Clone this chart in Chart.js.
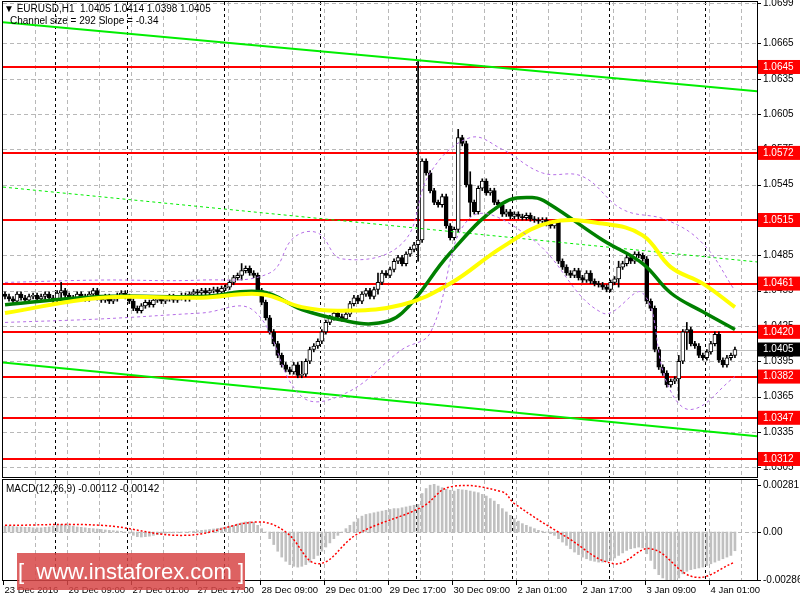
<!DOCTYPE html>
<html lang="en">
<head>
<meta charset="UTF-8" />
<title>EURUSD H1</title>
<script src="https://cdn.jsdelivr.net/npm/chart.js"></script>
<style>
  body { margin: 0; background: #fff; }
  #wrap { position: relative; width: 800px; height: 600px; background: #fff; font-family: "DejaVu Sans", sans-serif; }
  canvas { position: absolute; left: 0; }
  #mark { position: absolute; left: 17px; top: 553px; width: 228px; height: 37px; background: rgba(215,70,70,0.85);
          color: #fff; font: 22px "Liberation Sans", Arial, sans-serif; line-height: 37px; text-align: center; }
</style>
<script>
  // prices in pips above 1.0000 (450 = 1.0450), one value per H1 candle
  var closes = [
    450,448,446,452,449,447,450,451,448,450,
    452,449,447,453,455,451,447,449,452,450,
    448,452,455,449,447,450,446,448,451,453,
    450,446,440,438,442,445,443,447,449,446,
    448,450,447,449,451,448,452,454,453,455,
    453,455,456,454,457,458,462,466,468,472,
    474,470,468,455,445,432,420,410,400,392,
    388,386,392,383,384,395,405,408,412,420,
    428,432,436,433,431,435,444,449,446,452,
    455,450,456,462,470,468,473,480,483,478,
    486,490,494,498,565,555,540,530,528,535,
    510,500,507,585,580,545,530,522,542,548,
    538,540,530,528,520,522,518,520,518,517,
    519,516,515,514,515,512,510,513,480,475,
    470,468,472,466,464,470,463,461,460,458,
    456,462,465,475,478,483,480,486,485,482,
    446,440,405,390,385,375,378,380,395,420,
    422,410,408,400,398,403,410,418,396,392,
    398,400,405
  ];
  var firstOpen = 452;
  // extreme wicks that stick out of the normal range: index -> [high, low]
  var spikes = { 103: [650, 480], 113: [592, 505], 74: [395, 381], 168: [400, 362], 93: [470, 452],
                 14: [462, 449], 59: [478, 464], 116: [556, 518], 153: [480, 458], 170: [428, 405] };

  // moving averages and envelope, read at some candles
  var maFast = [[0,443],[24,450],[49,450],[64,454],[74,439],[84,430],[92,427],[99,436],[111,487],[124,529],[132,534],[136,528],[149,498],[159,478],[166,453],[174,437],[182,422]];
  var maSlow = [[0,436],[24,449],[49,449],[64,452],[74,441],[84,438],[99,443],[111,461],[124,492],[136,513],[149,512],[159,502],[166,475],[174,461],[182,441]];
  var bandUp = [[0,462],[24,464],[49,464],[66,470],[72,500],[78,504],[84,482],[99,495],[106,555],[116,585],[124,575],[134,555],[144,552],[154,524],[165,515],[174,495],[182,455]];
  var bandDn = [[0,428],[24,431],[49,436],[62,438],[74,365],[85,368],[99,405],[106,419],[116,517],[131,500],[149,436],[159,453],[165,377],[171,354],[182,382]];

  // channel lines: [start, end] at index -0.5 and 187.5
  var chanTop = [683, 624.4];
  var chanMid = [543, 479.4];
  var chanBot = [394, 331.4];

  var levels = [645, 572, 515, 461, 420, 382, 347, 312];
  var lastPrice = 405;
  var priceTicks = [699, 665, 635, 605, 575, 545, 515, 485, 455, 425, 395, 365, 335, 305];

  // MACD in units of 0.00001
  var macdHist = [
    35,35,33,30,30,28,28,25,25,25,
    28,30,35,40,45,42,38,35,30,28,
    25,22,20,18,15,12,10,8,6,4,
    0,-8,-20,-28,-30,-28,-25,-20,-16,-12,
    -8,-5,-5,-3,-2,0,2,5,8,10,
    12,15,18,22,25,30,35,40,48,55,
    60,62,58,40,20,0,-40,-75,-115,-150,
    -175,-195,-205,-210,-205,-195,-180,-160,-140,-115,
    -90,-65,-40,-20,0,20,40,60,80,95,
    105,110,115,120,125,130,135,140,140,145,
    150,155,160,165,230,260,280,285,275,265,
    255,250,245,255,252,250,245,240,235,225,
    215,200,185,165,140,120,100,80,65,50,
    40,30,20,10,5,0,-10,-20,-40,-60,
    -80,-100,-120,-135,-150,-160,-170,-175,-180,-180,
    -178,-170,-155,-140,-125,-110,-100,-95,-90,-95,
    -130,-170,-220,-255,-275,-290,-300,-290,-275,-250,
    -235,-225,-220,-215,-210,-200,-190,-180,-170,-160,
    -150,-140,-112
  ];
  var macdSignal = [[0,40],[24,40],[45,-20],[63,60],[70,0],[78,-190],[88,-10],[104,150],[111,270],[124,240],[127,170],[140,-30],[152,-190],[161,-100],[172,-270],[182,-180]];

  var dateLabels = ["23 Dec 2016","26 Dec 09:00","27 Dec 01:00","27 Dec 17:00","28 Dec 09:00","29 Dec 01:00",
                    "29 Dec 17:00","30 Dec 09:00","2 Jan 01:00","2 Jan 17:00","3 Jan 09:00","4 Jan 01:00"];
  var daySeparators = [12.5, 30.5, 54.5, 78.5, 102.5, 126.5, 150.5, 174.5];
</script>
</head>
<body>
<div id="wrap">
  <canvas id="main" width="800" height="478" style="top:0"></canvas>
  <canvas id="macd" width="800" height="122" style="top:478px"></canvas>
  <div id="mark">[&nbsp; www.instaforex.com ]</div>
</div>
<script>
  Chart.defaults.animation = false;
  Chart.defaults.font.family = "DejaVu Sans";

  var X_MIN = -0.5, X_MAX = 187.5;
  var AXIS_FONT = "10px 'Liberation Sans'";
  function pts(arr) { return arr.map(function (p) { return { x: p[0], y: p[1] }; }); }

  var bodies = [], wicks = [], bodyColors = [];
  closes.forEach(function (c, i) {
    var o = i === 0 ? firstOpen : closes[i - 1];
    var hi = Math.max(o, c) + 2, lo = Math.min(o, c) - 2;
    if (spikes[i]) { hi = spikes[i][0]; lo = spikes[i][1]; }
    if (Math.abs(c - o) < 1) c = o + 1;
    bodies.push({ x: i, y: [o, c] });
    wicks.push({ x: i, y: [lo, hi] });
    bodyColors.push(c >= o ? "#ffffff" : "#000000");
  });

  function vGrid(ctx, area, sx) {
    ctx.save();
    ctx.lineWidth = 1;
    ctx.strokeStyle = "#b8b8b8";
    ctx.setLineDash([4, 3]);
    for (var g = 7.5; g < X_MAX; g += 8) {
      var x = Math.round(sx.getPixelForValue(g)) + 0.5;
      ctx.beginPath(); ctx.moveTo(x, area.top); ctx.lineTo(x, area.bottom); ctx.stroke();
    }
    ctx.strokeStyle = "#000";
    ctx.setLineDash([3, 3]);
    daySeparators.forEach(function (d) {
      var x = Math.round(sx.getPixelForValue(d)) + 0.5;
      ctx.beginPath(); ctx.moveTo(x, area.top); ctx.lineTo(x, area.bottom); ctx.stroke();
    });
    ctx.restore();
  }

  function frame(ctx, area) {
    ctx.save();
    ctx.strokeStyle = "#000";
    ctx.lineWidth = 1;
    ctx.strokeRect(area.left - 0.5, area.top - 0.5, area.right - area.left + 1, area.bottom - area.top + 1);
    ctx.restore();
  }

  var mainPlugin = {
    id: "mt4main",
    beforeDatasetsDraw: function (chart) {
      var ctx = chart.ctx, a = chart.chartArea, sy = chart.scales.y;
      vGrid(ctx, a, chart.scales.x);
      ctx.save();
      ctx.strokeStyle = "#b8b8b8";
      ctx.setLineDash([4, 3]);
      priceTicks.forEach(function (t) {
        var y = Math.round(sy.getPixelForValue(t)) + 0.5;
        ctx.beginPath(); ctx.moveTo(a.left, y); ctx.lineTo(a.right, y); ctx.stroke();
      });
      ctx.setLineDash([]);
      ctx.strokeStyle = "#c0c0c0";
      var yl = Math.round(sy.getPixelForValue(lastPrice)) + 0.5;
      ctx.beginPath(); ctx.moveTo(a.left, yl); ctx.lineTo(a.right, yl); ctx.stroke();
      ctx.strokeStyle = "#ff0000";
      ctx.lineWidth = 2;
      levels.forEach(function (l) {
        var y = Math.round(sy.getPixelForValue(l));
        ctx.beginPath(); ctx.moveTo(a.left, y); ctx.lineTo(a.right, y); ctx.stroke();
      });
      ctx.restore();
    },
    afterDraw: function (chart) {
      var ctx = chart.ctx, a = chart.chartArea, sy = chart.scales.y;
      frame(ctx, a);
      ctx.save();
      ctx.font = AXIS_FONT;
      ctx.textBaseline = "middle";
      ctx.fillStyle = "#000";
      priceTicks.forEach(function (t) {
        var y = sy.getPixelForValue(t);
        ctx.fillRect(a.right, Math.round(y), 4, 1);
        ctx.fillText((1 + t / 10000).toFixed(4), a.right + 6, y);
      });
      function box(v, bg) {
        var y = sy.getPixelForValue(v);
        ctx.fillStyle = bg;
        ctx.fillRect(a.right + 1, y - 7, 42, 14);
        ctx.fillStyle = "#fff";
        ctx.fillText((1 + v / 10000).toFixed(4), a.right + 6, y);
      }
      levels.forEach(function (l) { box(l, "#ff0000"); });
      box(lastPrice, "#000");
      ctx.fillStyle = "#000";
      ctx.textBaseline = "top";
      ctx.fillText("\u25BC EURUSD,H1  1.0405 1.0414 1.0398 1.0405", 4, 4);
      ctx.fillText("Channel size = 292 Slope = -0.34", 10, 16);
      ctx.restore();
    }
  };

  function lineDs(data, color, width, dash) {
    return { type: "line", data: data, borderColor: color, borderWidth: width, borderDash: dash || [],
             pointRadius: 0, tension: 0.4, fill: false, order: -1 };
  }

  new Chart(document.getElementById("main"), {
    type: "bar",
    data: {
      datasets: [
        { data: wicks, backgroundColor: "#000", barThickness: 1, grouped: false, order: 2 },
        { data: bodies, backgroundColor: bodyColors, borderColor: "#000", borderWidth: 1, borderSkipped: false,
          barThickness: 4, grouped: false, order: 1 },
        lineDs(pts(bandUp), "#b56ee6", 1, [3, 3]),
        lineDs(pts(bandDn), "#b56ee6", 1, [3, 3]),
        lineDs(pts(maSlow), "#ffff00", 4),
        lineDs(pts(maFast), "#008000", 3.5),
        Object.assign(lineDs([{ x: X_MIN, y: chanTop[0] }, { x: X_MAX, y: chanTop[1] }], "#00ee00", 2), { tension: 0 }),
        Object.assign(lineDs([{ x: X_MIN, y: chanMid[0] }, { x: X_MAX, y: chanMid[1] }], "#00ee00", 1, [3, 3]), { tension: 0 }),
        Object.assign(lineDs([{ x: X_MIN, y: chanBot[0] }, { x: X_MAX, y: chanBot[1] }], "#00ee00", 2), { tension: 0 })
      ]
    },
    options: {
      responsive: false,
      layout: { padding: { left: 3, right: 43, top: 2, bottom: 1 } },
      plugins: { legend: { display: false }, tooltip: { enabled: false } },
      scales: {
        x: { type: "linear", min: X_MIN, max: X_MAX, offset: false, display: false },
        y: { min: 296.7, max: 700.2, display: false }
      }
    },
    plugins: [mainPlugin]
  });

  var macdPlugin = {
    id: "mt4macd",
    beforeDatasetsDraw: function (chart) {
      var ctx = chart.ctx, a = chart.chartArea, sy = chart.scales.y;
      vGrid(ctx, a, chart.scales.x);
      ctx.save();
      ctx.strokeStyle = "#b8b8b8";
      ctx.setLineDash([4, 3]);
      var y0 = Math.round(sy.getPixelForValue(0)) + 0.5;
      ctx.beginPath(); ctx.moveTo(a.left, y0); ctx.lineTo(a.right, y0); ctx.stroke();
      ctx.restore();
    },
    afterDraw: function (chart) {
      var ctx = chart.ctx, a = chart.chartArea, sy = chart.scales.y, sx = chart.scales.x;
      frame(ctx, a);
      ctx.save();
      ctx.font = AXIS_FONT;
      ctx.fillStyle = "#000";
      ctx.textBaseline = "middle";
      [[281, "0.00281"], [0, "0.00"], [-286, "-0.00286"]].forEach(function (t) {
        var y = sy.getPixelForValue(t[0]);
        ctx.fillRect(a.right, Math.round(y), 4, 1);
        ctx.fillText(t[1], a.right + 6, y);
      });
      ctx.textBaseline = "top";
      ctx.fillText("MACD(12,26,9) -0.00112 -0.00142", 6, a.top + 4);
      ctx.font = "9.5px 'Liberation Sans'";
      dateLabels.forEach(function (l, k) {
        var x = Math.round(sx.getPixelForValue(-0.5 + 16 * k)) + 0.5;
        ctx.fillRect(x - 0.5, a.bottom + 1, 1, 4);
        ctx.fillText(l, x + 1, a.bottom + 6);
      });
      ctx.restore();
    }
  };

  new Chart(document.getElementById("macd"), {
    type: "bar",
    data: {
      datasets: [
        { data: macdHist.map(function (v, i) { return { x: i, y: v }; }), backgroundColor: "#c0c0c0",
          barThickness: 2, grouped: false, order: 1 },
        { type: "line", data: pts(macdSignal), borderColor: "#ff0000", borderWidth: 1.5, borderDash: [2, 2],
          pointRadius: 0, tension: 0.4, order: 0 }
      ]
    },
    options: {
      responsive: false,
      layout: { padding: { left: 3, right: 43, top: 2, bottom: 20 } },
      plugins: { legend: { display: false }, tooltip: { enabled: false } },
      scales: {
        x: { type: "linear", min: X_MIN, max: X_MAX, offset: false, display: false },
        y: { min: -287, max: 311, display: false }
      }
    },
    plugins: [macdPlugin]
  });
</script>
</body>
</html>
